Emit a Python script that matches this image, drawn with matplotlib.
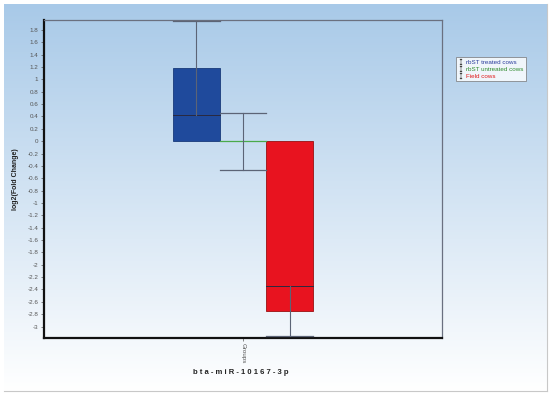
import numpy as np
import matplotlib
matplotlib.use('Agg')
import matplotlib.pyplot as plt
from matplotlib.lines import Line2D

plt.rcParams['font.family'] = ['Liberation Sans', 'DejaVu Sans']

# data
groups = ['rbST treated cows', 'rbST untreated cows', 'Field cows']
box_low = [0.0, 0.0, -2.74]
box_high = [1.18, 0.0, 0.0]
medians = [0.42, 0.0, -2.35]
whisk_low = [0.42, -0.47, -3.16]
whisk_high = [1.95, 0.45, -2.35]
caps = [[1.95], [-0.47, 0.45], [-3.16]]
box_colors = ['#1f4a9c', '#4aaa4a', '#e8131f']
text_colors = ['#2a3c9c', '#2e8b2e', '#e01818']
yticks = np.round(np.arange(-3.0, 1.81, 0.2), 1)

fig = plt.figure(figsize=(5.5, 3.95), dpi=100)

# gradient background panel (top light blue -> bottom white)
bg = fig.add_axes([4/550, 4/395, 543/550, 387/395])
grad = np.linspace(0, 1, 256).reshape(-1, 1)
top = np.array([0.66, 0.79, 0.91])
bot = np.array([1.0, 1.0, 1.0])
img = top[None, None, :] * (1 - grad[:, :, None]) + bot[None, None, :] * grad[:, :, None]
bg.imshow(img, aspect='auto')
bg.set_xticks([])
bg.set_yticks([])
for s in bg.spines.values():
    s.set_color('#c8c8c8')
    s.set_linewidth(0.8)
bg.spines['top'].set_visible(False)
bg.spines['left'].set_visible(False)

ax = fig.add_axes([44/550, 57.3/395, 398/550, 317.7/395])
ax.patch.set_alpha(0)

pos = np.arange(len(groups)) - 1
w = 1.0
whisk_col = '#5c6476'
for i in range(len(groups)):
    h = box_high[i] - box_low[i]
    if h > 0:
        edge = '#183a7a' if i == 0 else '#9a1010'
        ax.bar(pos[i], h, bottom=box_low[i], width=w, color=box_colors[i],
               edgecolor=edge, linewidth=0.6, zorder=2)
        ax.plot([pos[i] - w/2, pos[i] + w/2], [medians[i], medians[i]],
                color='#2a2a40', lw=0.7, zorder=3)
    else:
        ax.plot([pos[i] - w/2, pos[i] + w/2], [box_low[i], box_low[i]],
                color=box_colors[i], lw=0.9, zorder=3)
    ax.plot([pos[i], pos[i]], [whisk_low[i], whisk_high[i]],
            color=whisk_col, lw=0.8, zorder=4)
    for c in caps[i]:
        ax.plot([pos[i] - w/2, pos[i] + w/2], [c, c], color=whisk_col,
                lw=0.9, zorder=4)

ax.set_xlim(-4.26, 4.26)
ax.set_ylim(-3.18, 1.96)
ax.set_yticks(yticks)
ax.set_yticklabels(['%g' % t for t in yticks])
ax.set_xticks([0])
ax.set_xticklabels(['Groups'], rotation=270)
ax.tick_params(axis='both', labelsize=4.5, labelcolor='#555555',
               color='#555555', length=2, width=0.5, pad=2)

ax.spines['left'].set_color('#111111')
ax.spines['left'].set_linewidth(1.6)
ax.spines['bottom'].set_color('#111111')
ax.spines['bottom'].set_linewidth(1.6)
ax.spines['top'].set_color('#6a7080')
ax.spines['top'].set_linewidth(0.9)
ax.spines['right'].set_color('#6a7080')
ax.spines['right'].set_linewidth(0.9)

ax.set_ylabel('log2(Fold Change)', fontsize=5, fontweight='bold',
              color='#222222', labelpad=6)
fig.text(241/550, 1 - 373/395, ' '.join('bta-miR-10167-3p'),
         ha='center', va='center', fontsize=5.5, fontweight='bold',
         color='#222222')

handles = [Line2D([], [], marker=r'$\mathtt{I}$', linestyle='none',
                  color='#444444', markersize=3.8, markeredgewidth=0.2)
           for _ in groups]
leg = fig.legend(handles, groups, loc='upper left',
                 bbox_to_anchor=(456/550, 1 - 57/395), fontsize=4.5,
                 frameon=True, fancybox=False, handlelength=0.8,
                 handletextpad=0.4, borderpad=0.4, labelspacing=0.25,
                 borderaxespad=0)
leg.get_frame().set_edgecolor('#707070')
leg.get_frame().set_linewidth(0.6)
for t, c in zip(leg.get_texts(), text_colors):
    t.set_color(c)

fig.savefig('out.png', dpi=100)
